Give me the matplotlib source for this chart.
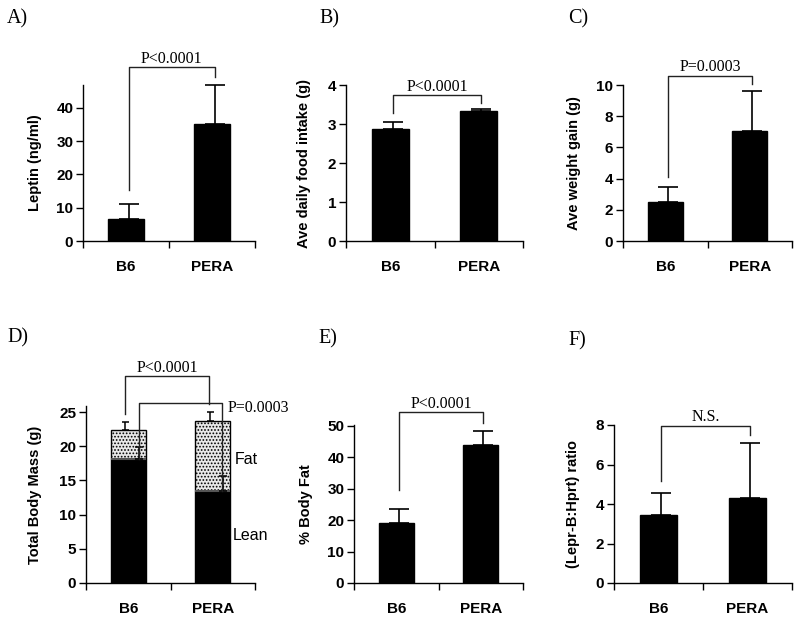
import numpy as np
import matplotlib
matplotlib.use("Agg")
import matplotlib.pyplot as plt

plt.rcParams['font.family'] = ['Liberation Sans', 'DejaVu Sans']
plt.rcParams['hatch.color'] = '#444444'
plt.rcParams['hatch.linewidth'] = 0.8

# ---- data ----
groups = ['B6', 'PERA']

leptin_mean = [6.6, 35.2]
leptin_err = [4.5, 11.7]

food_mean = [2.87, 3.33]
food_err = [0.18, 0.05]

gain_mean = [2.5, 7.05]
gain_err = [0.95, 2.55]

lean_mean = [18.2, 13.4]
lean_err = [1.7, 2.2]
total_mass = [22.4, 23.7]
total_err = [1.15, 1.25]

fat_pct = [19.0, 43.9]
fat_pct_err = [4.5, 4.5]

lepr_ratio = [3.43, 4.32]
lepr_err = [1.12, 2.75]

# significance brackets: (left start, top, right end)
br_leptin = (15.3, 52.3, 49.3)
br_food = (3.27, 3.74, 3.53)
br_gain = (4.1, 10.6, 10.05)
br_mass_total = (24.7, 30.3, 26.2)
br_mass_fat = (18.2, 26.3, 13.4)
br_fatpct = (29.6, 54.5, 51.0)
br_lepr = (5.17, 7.97, 7.5)

W, H = 800, 619
fig = plt.figure(figsize=(W / 100, H / 100), dpi=100)

SERIF = 'Liberation Serif'
BW = 0.42
EOFF = 0.03


def px_axes(x0, x1, ybot, ytop):
    return fig.add_axes([x0 / W, 1 - ybot / H, (x1 - x0) / W, (ybot - ytop) / H])


def style(ax, ymax, yticks, ylabel, labx):
    ax.set_xlim(-0.5, 1.5)
    ax.set_ylim(0, ymax)
    ax.set_yticks(yticks)
    ax.set_xticks([0, 1])
    ax.set_xticklabels(groups, fontsize=11, fontweight='bold')
    ax.set_xticks([-0.5, 0.5, 1.5], minor=True)
    ax.tick_params(axis='x', which='major', length=0, pad=14)
    ax.tick_params(axis='x', which='minor', length=5, width=1, direction='out')
    ax.tick_params(axis='y', length=5, width=1, direction='out', labelsize=11, pad=2)
    for lab in ax.get_yticklabels():
        lab.set_fontweight('bold')
    for s in ['top', 'right']:
        ax.spines[s].set_visible(False)
    for s in ['left', 'bottom']:
        ax.spines[s].set_linewidth(1)
    ax.set_ylabel(ylabel, fontsize=10.5, fontweight='bold')
    ax.yaxis.set_label_coords(labx, 0.5)


def err_up(ax, xs, tops, errs, cap=20, lw=1.2):
    # cap = full cap width in pixels
    ax.errorbar(xs, tops, yerr=[np.zeros(len(errs)), errs], fmt='none',
                ecolor='black', elinewidth=lw, capsize=cap / 2 * 0.72,
                capthick=lw, clip_on=False, zorder=3)


def bracket(ax, xl, xr, br, text):
    y1, ytop, y2 = br
    ax.plot([xl, xl, xr, xr], [y1, ytop, ytop, y2], color='#222222', lw=1,
            clip_on=False, zorder=4)
    if text:
        ax.annotate(text, ((xl + xr) / 2, ytop), xytext=(0, 3),
                    textcoords='offset points', ha='center', va='baseline',
                    family=SERIF, fontsize=11.5, annotation_clip=False)


def simple_panel(ax, mean, err, br, text):
    x = np.arange(len(groups))
    ax.bar(x, mean, width=BW, color='black', edgecolor='black', zorder=2)
    err_up(ax, x + EOFF, mean, err, cap=20)
    bracket(ax, x[0] + EOFF, x[1] + EOFF, br, text)


# A) leptin
axA = px_axes(83, 255, 241, 85)
style(axA, 46.9, [0, 10, 20, 30, 40], 'Leptin (ng/ml)', -0.24)
simple_panel(axA, leptin_mean, leptin_err, br_leptin, 'P<0.0001')

# B) food intake
axB = px_axes(346, 523, 241, 85)
style(axB, 4, [0, 1, 2, 3, 4], 'Ave daily food intake (g)', -0.20)
simple_panel(axB, food_mean, food_err, br_food, 'P<0.0001')

# C) weight gain
axC = px_axes(623, 792, 241, 85)
style(axC, 10, [0, 2, 4, 6, 8, 10], 'Ave weight gain (g)', -0.25)
simple_panel(axC, gain_mean, gain_err, br_gain, 'P=0.0003')

# D) body composition
axD = px_axes(86, 255, 583, 406)
style(axD, 25.9, [0, 5, 10, 15, 20, 25], 'Total Body Mass (g)', -0.26)
x = np.arange(len(groups))
fat = np.array(total_mass) - np.array(lean_mean)
axD.bar(x, lean_mean, width=BW, color='black', edgecolor='black', lw=1, zorder=2)
axD.bar(x, fat, bottom=lean_mean, width=BW, color='#e8e8e8', edgecolor='black',
        lw=1, hatch='.....', zorder=2)
axD.hlines(lean_mean, x - BW / 2, x + BW / 2, color='#555555', lw=1.5, zorder=3)
err_up(axD, x - 0.035, total_mass, total_err, cap=7, lw=1.1)
err_up(axD, x + 0.125, lean_mean, lean_err, cap=8, lw=1.1)
bracket(axD, x[0] - 0.035, x[1] - 0.05, br_mass_total, 'P<0.0001')
bracket(axD, x[0] + 0.125, x[1] + 0.11, br_mass_fat, None)
axD.text(1.18, 25.6, 'P=0.0003', ha='left', va='center', family=SERIF,
         fontsize=11.5, clip_on=False)
axD.text(1.26, 18.0, 'Fat', ha='left', va='center', fontsize=11.5)
axD.text(1.24, 7.0, 'Lean', ha='left', va='center', fontsize=11.5)

# E) % body fat
axE = px_axes(354, 523, 583, 425)
style(axE, 50.3, [0, 10, 20, 30, 40, 50], '% Body Fat', -0.24)
simple_panel(axE, fat_pct, fat_pct_err, br_fatpct, 'P<0.0001')

# F) Lepr-B expression
axF = px_axes(614, 792, 583, 425)
style(axF, 8, [0, 2, 4, 6, 8], '(Lepr-B:Hprt) ratio', -0.19)
simple_panel(axF, lepr_ratio, lepr_err, br_lepr, 'N.S.')

# panel letters
for lab, px, py in [('A)', 7, 23), ('B)', 319, 23), ('C)', 568, 23),
                    ('D)', 7, 342), ('E)', 318, 343), ('F)', 568, 345)]:
    fig.text(px / W, 1 - py / H, lab, family=SERIF, fontsize=14.5,
             ha='left', va='baseline')

fig.savefig('out.png', dpi=100)
